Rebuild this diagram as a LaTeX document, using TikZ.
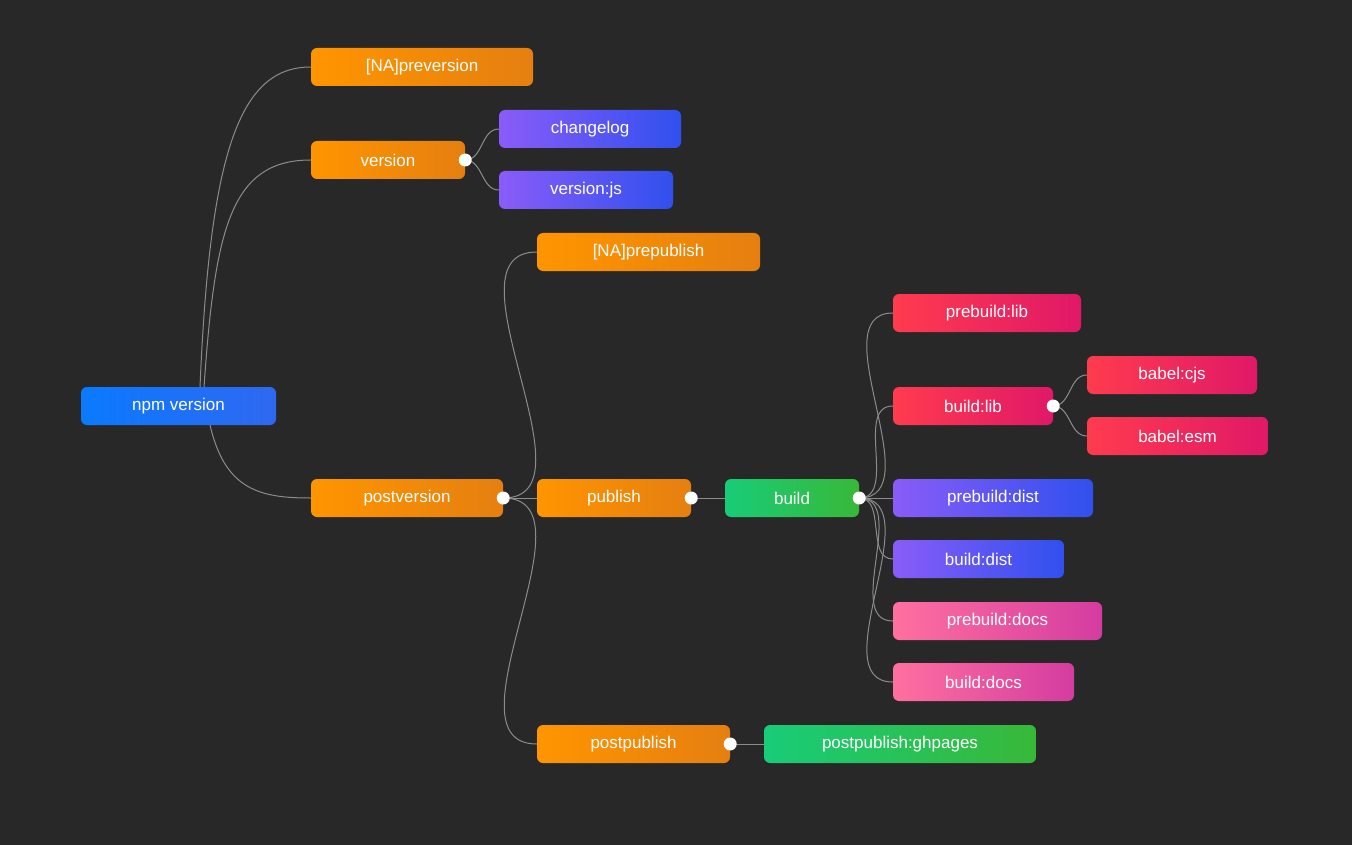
\documentclass[tikz,border=0pt]{standalone}
\usepackage{fontspec}
\setmainfont{Liberation Sans}
\definecolor{bg}{HTML}{282828}
\definecolor{oA}{HTML}{FF9500}\definecolor{oB}{HTML}{E57F10}
\definecolor{bA}{HTML}{0A7AFF}\definecolor{bB}{HTML}{2F68F0}
\definecolor{pA}{HTML}{8A5CF8}\definecolor{pB}{HTML}{3050EE}
\definecolor{gA}{HTML}{18CC78}\definecolor{gB}{HTML}{38B838}
\definecolor{rA}{HTML}{FF3B4E}\definecolor{rB}{HTML}{E01868}
\definecolor{kA}{HTML}{FF70A0}\definecolor{kB}{HTML}{D43CA0}
\definecolor{ln}{HTML}{8C8C8C}
\tikzset{
  box/.style={rounded corners=6pt,minimum height=38pt,inner sep=0pt,text=white,font=\fontsize{17}{20}\selectfont},
  orange/.style={box,left color=oA,right color=oB},
  blue/.style={box,left color=bA,right color=bB},
  purple/.style={box,left color=pA,right color=pB},
  green/.style={box,left color=gA,right color=gB},
  red/.style={box,left color=rA,right color=rB},
  pink/.style={box,left color=kA,right color=kB},
  wire/.style={draw=ln,line width=1pt},
  dot/.style={circle,fill=white,minimum size=13pt,inner sep=0pt},
}
\begin{document}
\begin{tikzpicture}[x=1pt,y=-1pt]
\fill[bg] (0,0) rectangle (1352,845);
\node[blue,minimum width=195pt] (npm) at (178.5,406) {npm version};
\node[orange,minimum width=222pt] (prever) at (422,67) {[NA]preversion};
\node[orange,minimum width=154pt] (ver) at (388,160) {version};
\node[purple,minimum width=182pt] (chg) at (590,129) {changelog};
\node[purple,minimum width=174pt] (verjs) at (586,190) {version:js};
\node[orange,minimum width=223pt] (prepub) at (648.5,252) {[NA]prepublish};
\node[orange,minimum width=192pt] (postver) at (407,498) {postversion};
\node[orange,minimum width=154pt] (pub) at (614,498) {publish};
\node[green,minimum width=134pt] (build) at (792,498) {build};
\node[orange,minimum width=193pt] (postpub) at (633.5,744) {postpublish};
\node[green,minimum width=272pt] (gh) at (900,744) {postpublish:ghpages};
\node[red,minimum width=188pt] (pbl) at (987,313) {prebuild:lib};
\node[red,minimum width=160pt] (bl) at (973,406) {build:lib};
\node[red,minimum width=170pt] (cjs) at (1172,375) {babel:cjs};
\node[red,minimum width=181pt] (esm) at (1177.5,436) {babel:esm};
\node[purple,minimum width=200pt] (pbd) at (993,498) {prebuild:dist};
\node[purple,minimum width=171pt] (bd) at (978.5,559) {build:dist};
\node[pink,minimum width=209pt] (pbdoc) at (997.5,621) {prebuild:docs};
\node[pink,minimum width=181pt] (bdoc) at (983.5,682) {build:docs};
% npm connectors
\coordinate (s1) at (200,387);
\coordinate (s2) at (204,387);
\coordinate (s3) at (210,425);
\draw[wire] (s1) .. controls (210,150) and (240,67) .. (prever.west);
\draw[wire] (s2) .. controls (215,230) and (230,160) .. (ver.west);
\draw[wire] (s3) .. controls (225,490) and (260,498) .. (postver.west);
\coordinate (dv) at (ver.east);
\coordinate (dpv) at (postver.east);
\coordinate (dp) at (pub.east);
\coordinate (db) at (build.east);
\coordinate (dbl) at (bl.east);
\coordinate (dpp) at (postpub.east);
\foreach \a/\b in {dv/chg,dv/verjs,dpv/prepub,dpv/postpub,dbl/cjs,dbl/esm,db/pbl,db/bl,db/bd,db/pbdoc,db/bdoc}
  \draw[wire] (\a) to[out=0,in=180] (\b.west);
\draw[wire] (dpv) -- (pub.west);
\draw[wire] (dp) -- (build.west);
\draw[wire] (db) -- (pbd.west);
\draw[wire] (dpp) -- (gh.west);
\foreach \d in {dv,dpv,dp,db,dbl,dpp} \node[dot] at (\d) {};
\end{tikzpicture}
\end{document}
